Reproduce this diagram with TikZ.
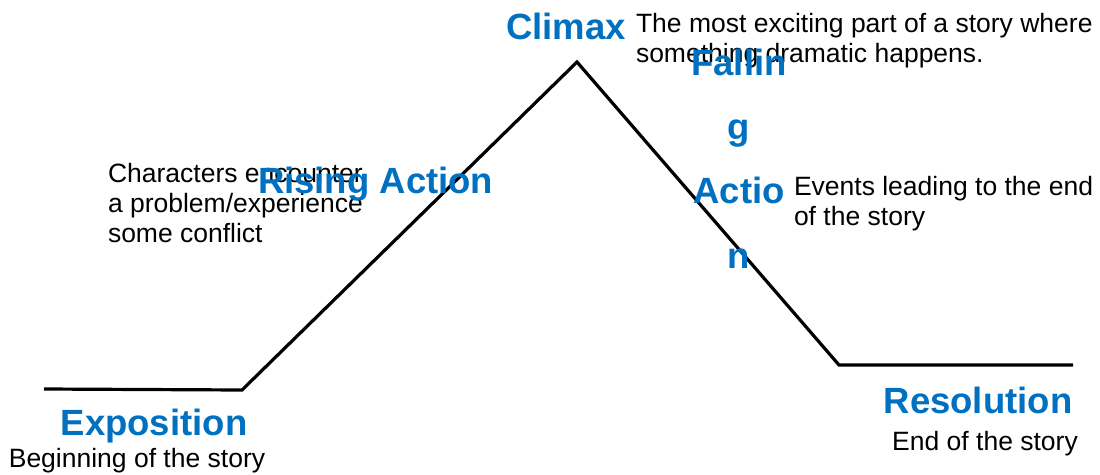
\documentclass[tikz,border=0pt]{standalone}
\usepackage{fontspec}
\setmainfont{Liberation Sans}
\usetikzlibrary{positioning}
\definecolor{headblue}{RGB}{0,112,192}

\begin{document}
\begin{tikzpicture}[x=1pt,y=-1pt,inner sep=0pt,outer sep=0pt,
    stage/.style={font=\fontsize{36.5}{40}\selectfont\bfseries,text=headblue},
    note/.style={font=\fontsize{26.5}{30}\selectfont,align=left},
    arc line/.style={line width=3.2pt,line join=miter}]
      \useasboundingbox (0,0) rectangle (1100,474);
      % the story arc
      \coordinate (expoL) at (44,389);
      \coordinate (expoR) at (242,390);
      \coordinate (peak) at (577,62);
      \coordinate (resoL) at (839,365);
      \coordinate (resoR) at (1073,365);
      \draw [arc line] (expoL) -- (expoR) -- (peak) -- (resoL) -- (resoR);
      % labels (multi-line nodes sit on their last baseline)
      \node [stage,anchor=base] (expo) at (154,435) {Exposition};
      \node [note,anchor=base] (expotxt) at (137,467) {Beginning of the story};
      \node [note,anchor=base west] (risetxt) at (108,242) {Characters encounter\\a problem/experience\\some conflict};
      \node [stage,anchor=base west] (rise) at (258,193) {Rising Action};
      \node [stage,anchor=base west] (climax) at (506,39) {Climax};
      \node [note,anchor=base west] (climaxtxt) at (636,62) {The most exciting part of a story where\\something dramatic happens.};
      \node [stage,font=\fontsize{36.5}{64.3}\selectfont\bfseries,align=center,anchor=base] (fall) at (739,268) {Fallin\\g\\Actio\\n};
      \node [note,anchor=base west] (falltxt) at (794,225) {Events leading to the end\\of the story};
      \node [stage,anchor=base] (reso) at (978,413) {Resolution};
      \node [note,anchor=base] (resotxt) at (985,450) {End of the story};
   \end{tikzpicture}
\end{document}
